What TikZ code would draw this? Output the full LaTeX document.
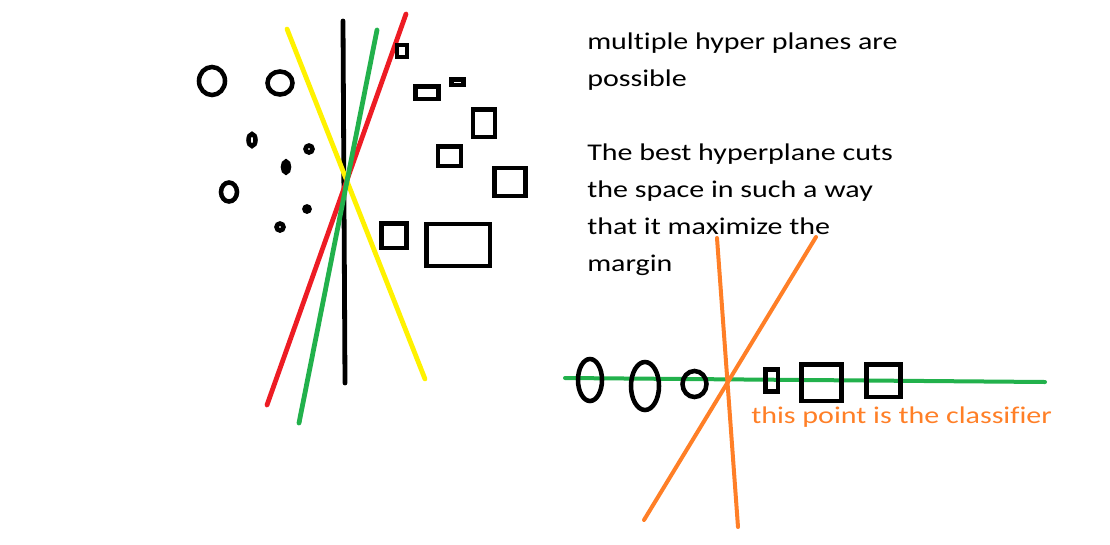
\documentclass[tikz,border=0pt]{standalone}
\usepackage{fontspec}
\setmainfont{Carlito}[FakeStretch=1.25, Ligatures=NoCommon]
\usepackage{xcolor}
\usepackage{tikz}
\definecolor{pYellow}{HTML}{FFF200}
\definecolor{pRed}{HTML}{ED1C24}
\definecolor{pGreen}{HTML}{22B14C}
\definecolor{pOrange}{HTML}{FF7F27}

\begin{document}
\begin{tikzpicture}[x=0.75pt, y=-0.75pt,
  ink/.style={line width=3.4pt, black},
  plane/.style={line width=3.6pt, line cap=round},
  note/.style={font=\fontsize{18}{27.7}\selectfont, align=left, inner sep=0pt, anchor=north west}]
\useasboundingbox (0,0) rectangle (1110,544);

% candidate hyperplanes
\draw[plane, black] (343,21) -- (345,383);
\draw[plane, pYellow] (287,29) -- (425,379);
\draw[plane, pRed] (406,14) -- (267,405);
\draw[plane, pGreen] (377,30) -- (299,423);

% class 1: circles
\draw[ink] (212,81) ellipse [x radius=13, y radius=14];
\draw[ink] (280,83) ellipse [x radius=12.5, y radius=11.5];
\draw[ink] (252,140) ellipse [x radius=3.5, y radius=6];
\draw[ink] (309,149) circle [radius=3.5];
\draw[ink, fill=black] (286,167) ellipse [x radius=3, y radius=5.5];
\draw[ink] (229,192) ellipse [x radius=8, y radius=9.5];
\draw[ink] (307,209) circle [radius=2.5];
\draw[ink] (280,227) circle [radius=3.5];

% class 2: boxes
\draw[ink] (397,45) rectangle (407,57);
\draw[ink] (415.5,86.5) rectangle (438.5,99);
\draw[ink] (451.5,79.5) rectangle (463.5,85);
\draw[ink] (473,109.5) rectangle (495,137);
\draw[ink] (438,146.5) rectangle (461,166);
\draw[ink] (494.5,168) rectangle (525.5,196);
\draw[ink] (381.5,223.5) rectangle (406.5,248);
\draw[ink] (426.5,224) rectangle (490,266);

\node[note] (multi) at (587,33) {multiple hyper planes are\\possible};
\node[note] (best) at (587,144) {The best hyperplane cuts\\the space in such a way\\that it maximize the\\margin};

% 1-d case
\draw[line width=3pt, pGreen, line cap=round] (565,378) -- (1045,382);
\draw[plane, pOrange, line width=3pt] (717,238) -- (738,527);
\draw[plane, pOrange, line width=3pt] (816,237) -- (644,520);
\draw[ink] (590,380) ellipse [x radius=12, y radius=21];
\draw[ink] (645,386) ellipse [x radius=14, y radius=24];
\draw[ink] (694.5,384) ellipse [x radius=12, y radius=13];
\draw[ink] (765.7,369.7) rectangle (778,391.3);
\draw[ink] (801.5,364.5) rectangle (841.5,401);
\draw[ink] (866.5,364.5) rectangle (900.5,397);
\node[note, text=pOrange, anchor=base west] (clf) at (751,423) {this point is the classifier};
\end{tikzpicture}
\end{document}
